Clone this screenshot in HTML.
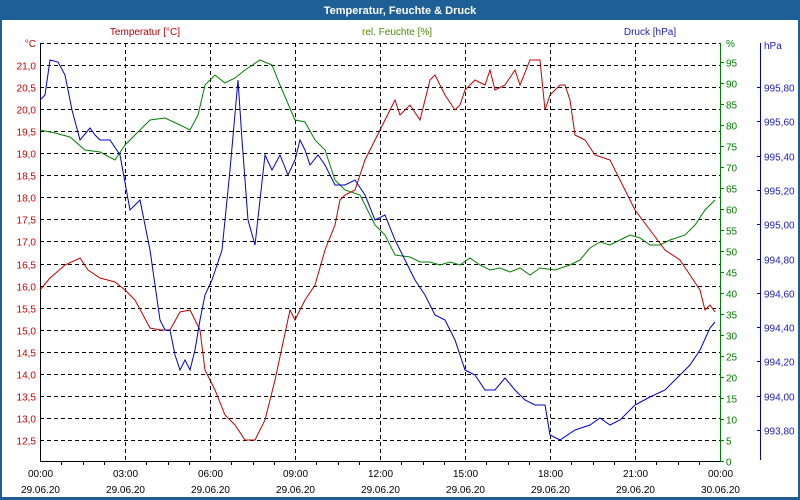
<!DOCTYPE html>
<html><head><meta charset="utf-8"><style>
body{margin:0;background:#fff;}
svg{display:block;font-family:"Liberation Sans",sans-serif;}
</style></head><body>
<svg width="800" height="500" viewBox="0 0 800 500" xmlns="http://www.w3.org/2000/svg">
<rect x="0" y="0" width="800" height="500" fill="#fff"/>
<rect x="0.5" y="0.5" width="799" height="499" fill="none" stroke="#1e5f96" stroke-width="1"/>
<rect x="0" y="0" width="800" height="20" fill="#1e5f96"/>
<rect x="0" y="497" width="800" height="3" fill="#1e5f96"/>
<rect x="0" y="0" width="2" height="500" fill="#1e5f96"/>
<rect x="798" y="0" width="2" height="500" fill="#1e5f96"/>
<text x="400" y="14" fill="#fff" font-size="11" font-weight="bold" text-anchor="middle">Temperatur, Feuchte &amp; Druck</text>
<g font-size="10">
<text x="145" y="35" fill="#c00000" text-anchor="middle">Temperatur [°C]</text>
<text x="397" y="35" fill="#4a8a00" text-anchor="middle">rel. Feuchte [%]</text>
<text x="650" y="35" fill="#2020c0" text-anchor="middle">Druck [hPa]</text>
</g>
<g id="grid" stroke="#000" stroke-dasharray="4,3" stroke-width="1">
<line x1="40" y1="43.5" x2="720" y2="43.5"/>
</g>
<g stroke="#000" stroke-dasharray="4,3" stroke-width="1" id="hg"></g>
<g stroke="#000" stroke-dasharray="4,3" stroke-width="1" id="vg"></g>
<line x1="40.5" y1="43" x2="40.5" y2="461" stroke="#000"/>
<line x1="40" y1="461.5" x2="721" y2="461.5" stroke="#000"/>
<line x1="720.5" y1="43" x2="720.5" y2="461" stroke="#008000"/>
<line x1="760.5" y1="43" x2="760.5" y2="460" stroke="#0000c0"/>
<g id="labels" font-size="10"></g>
<polyline fill="none" stroke="#008000" stroke-width="1" points="40,130 55,133 70,137 85,150 100,152 115,160 125,145 135,135 150,120 165,118 180,125 190,130 198,115 205,85 215,75 225,83 235,78 245,70 260,60 272,65 280,85 295,120 305,122 315,140 325,150 335,180 345,190 360,195 375,225 385,235 395,255 410,257 420,262 430,262 440,265 450,262 460,265 470,258 480,265 490,270 500,268 510,272 520,268 530,275 540,268 555,270 570,265 580,260 590,248 600,242 610,245 620,240 630,235 640,238 650,245 660,245 670,240 685,235 695,225 705,210 715,200"/>
<polyline fill="none" stroke="#c00000" stroke-width="1" points="40,290 50,278 65,265 80,258 88,270 100,278 115,282 125,290 135,300 150,328 160,330 170,330 180,312 190,310 200,330 205,370 215,390 225,415 235,425 245,440 255,440 265,420 275,380 290,310 295,320 305,300 315,285 325,250 335,225 340,200 345,195 355,190 365,160 380,130 390,110 395,100 400,115 410,105 420,120 430,80 435,75 445,95 455,110 460,105 465,90 475,80 485,85 490,70 495,90 505,85 515,70 520,85 530,60 540,60 545,110 550,95 560,85 565,85 570,100 575,135 585,140 595,155 610,160 620,180 635,210 650,230 665,250 680,260 690,275 700,290 705,310 710,305 715,312"/>
<polyline fill="none" stroke="#0000d0" stroke-width="1" points="40,100 45,95 50,60 58,62 65,75 72,110 80,140 90,128 95,135 100,140 110,140 120,155 130,210 140,200 150,250 160,320 165,330 170,330 175,355 180,370 185,360 190,370 195,350 200,320 205,295 212,280 222,250 230,170 238,80 242,140 248,220 255,245 260,200 265,155 272,170 280,155 288,175 295,160 300,140 305,150 310,165 318,155 325,165 335,185 345,185 355,180 365,195 375,220 385,215 395,240 405,260 415,280 425,295 435,315 445,320 455,340 465,370 475,375 485,390 495,390 505,378 515,390 525,400 535,405 545,405 550,435 560,440 575,430 590,425 600,418 610,425 620,420 635,405 650,397 665,390 680,375 690,365 700,350 710,328 715,322"/>
<script>
var ns="http://www.w3.org/2000/svg";
function el(p,t,a,txt){var e=document.createElementNS(ns,t);for(var k in a)e.setAttribute(k,a[k]);if(txt!==undefined)e.textContent=txt;p.appendChild(e);return e;}
var hg=document.getElementById('hg'),vg=document.getElementById('vg'),lb=document.getElementById('labels');
for(var k=0;k<=17;k++){var y=Math.round(440-22.06*k)+0.5;el(hg,'line',{x1:40,y1:y,x2:720,y2:y});
var v=(12.5+0.5*k).toFixed(1).replace('.',',');el(lb,'text',{x:36,y:y+4,fill:'#d00000','text-anchor':'end'},v);}
el(lb,'text',{x:36,y:47,fill:'#d00000','text-anchor':'end'},'°C');
for(var i=0;i<=8;i++){var x=Math.round(40+85*i)+0.5;if(i>0&&i<8)el(vg,'line',{x1:x,y1:43,x2:x,y2:461});
var hh=['00:00','03:00','06:00','09:00','12:00','15:00','18:00','21:00','00:00'][i];
el(lb,'text',{x:x,y:477,fill:'#000','text-anchor':'middle'},hh);
el(lb,'text',{x:x,y:493,fill:'#000','text-anchor':'middle'},i==8?'30.06.20':'29.06.20');}
for(var j=0;j<32;j++){var x=Math.round(40+85/4*j*1)+0.5;if(j%4)el(lb,'line',{x1:x,y1:461,x2:x,y2:465,stroke:'#000'});}
for(var h=0;h<=19;h++){var y=Math.round(461-21.0*h)+0.5;el(lb,'line',{x1:720,y1:y,x2:724,y2:y,stroke:'#008000'});
el(lb,'text',{x:726,y:y+4,fill:'#008000'},String(h*5));}
el(lb,'text',{x:726,y:47,fill:'#008000'},'%');
for(var p=0;p<=10;p++){var y=Math.round(430-34.3*p)+0.5;el(lb,'line',{x1:757,y1:y,x2:761,y2:y,stroke:'#0000c0'});
el(lb,'text',{x:764,y:y+4,fill:'#2020c0'},(993.8+0.2*p).toFixed(2).replace('.',','));}
el(lb,'text',{x:764,y:49,fill:'#2020c0'},'hPa');
</script>
</svg>
</body></html>
